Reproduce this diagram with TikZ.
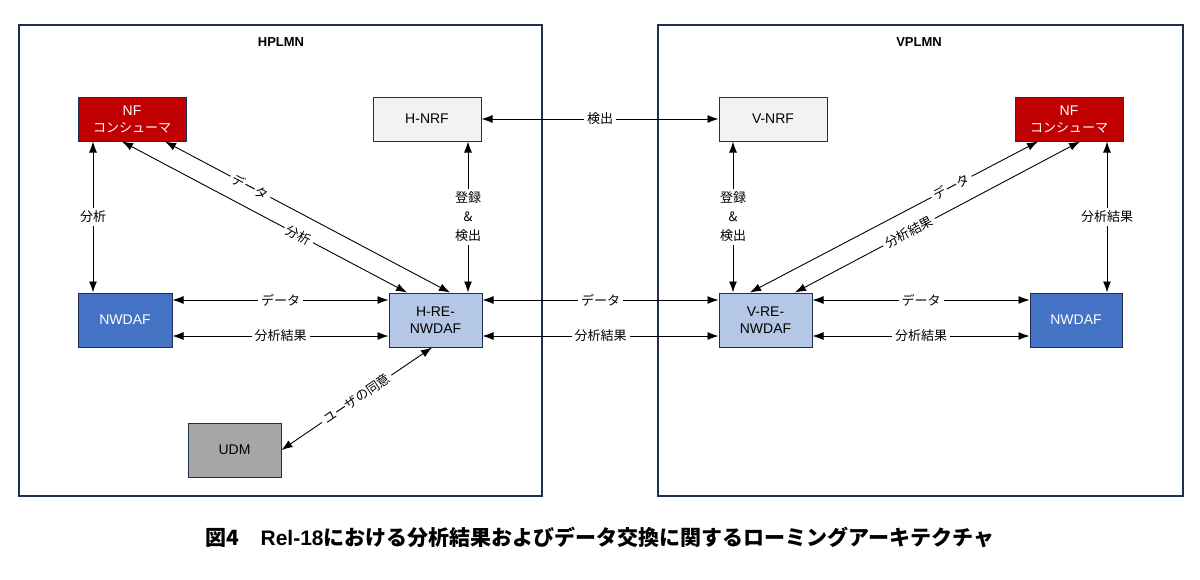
\documentclass[tikz,border=0pt]{standalone}
\usepackage{fontspec}
\setmainfont{Liberation Sans}
\newfontfamily\jp{Noto Sans CJK JP}
\usetikzlibrary{arrows.meta}
\definecolor{nfred}{HTML}{C00000}
\definecolor{nwblue}{HTML}{4472C4}
\definecolor{reblue}{HTML}{B4C7E7}
\definecolor{nrfgray}{HTML}{F2F2F2}
\definecolor{udmgray}{HTML}{A6A6A6}
\definecolor{edge}{HTML}{1F2F4F}
\begin{document}
\begin{tikzpicture}[x=1pt,y=-1pt,
 box/.style={draw=edge,line width=1pt,inner sep=0pt,align=center},
 frame/.style={draw=edge,line width=1.5pt},
 txt/.style={align=center,font=\fontsize{14}{17}\selectfont},
 con/.style={{Latex[length=11pt,width=8pt]}-{Latex[length=11pt,width=8pt]},line width=0.9pt},
 lbl/.style={fill=white,inner sep=3pt,font=\fontsize{13}{15}\selectfont\jp,align=center}]
\useasboundingbox (0,0) rectangle (1200,579);
\draw[frame] (19,25) rectangle (542,496);
\draw[frame] (658,25) rectangle (1183,496);
\node[font=\bfseries\fontsize{13}{15}\selectfont] (th) at (281,42) {HPLMN};
\node[font=\bfseries\fontsize{13}{15}\selectfont] (tv) at (919,42) {VPLMN};
\def\bx#1#2#3#4#5#6{\node[box,fill=#6,minimum width=#3-#1,minimum height=#4-#2] (#5) at ({(#1+#3)/2},{(#2+#4)/2}) {};}
\bx{78}{97}{186}{141}{nfl}{nfred}
\bx{373}{97}{481}{141}{hnrf}{nrfgray}
\bx{719}{97}{827}{141}{vnrf}{nrfgray}
\bx{1015}{97}{1123}{141}{nfr}{nfred}
\bx{78}{293}{172}{347}{nwl}{nwblue}
\bx{389}{293}{482}{347}{hre}{reblue}
\bx{719}{293}{812}{347}{vre}{reblue}
\bx{1030}{293}{1122}{347}{nwr}{nwblue}
\bx{188}{423}{281}{477}{udm}{udmgray}
\node[txt,text=white] at (nfl) {NF\\{\jp\fontsize{13}{17}\selectfont コンシューマ}};
\node[txt,text=white] at (nfr) {NF\\{\jp\fontsize{13}{17}\selectfont コンシューマ}};
\node[txt] at (hnrf) {H-NRF};
\node[txt] at (vnrf) {V-NRF};
\node[txt,text=white] at (nwl) {NWDAF};
\node[txt,text=white] at (nwr) {NWDAF};
\node[txt] at (hre) {H-RE-\\NWDAF};
\node[txt] at (vre) {V-RE-\\NWDAF};
\node[txt] at (udm) {UDM};
% connectors
\draw[con] (hnrf.east) -- node[lbl]{検出} (vnrf.west);
\draw[con] (nfl.south -| 93,0) -- node[lbl]{分析} (nwl.north -| 93,0);
\draw[con] (hnrf.south -| 468,0) -- node[lbl,font=\fontsize{13}{19}\selectfont\jp]{登録\\\&\\検出} (hre.north -| 468,0);
\draw[con] (vnrf.south -| 733,0) -- node[lbl,font=\fontsize{13}{19}\selectfont\jp]{登録\\\&\\検出} (vre.north -| 733,0);
\draw[con] (nfr.south -| 1107,0) -- node[lbl]{分析結果} (nwr.north -| 1107,0);
\draw[con] (nwl.east |- 0,300) -- node[lbl]{データ} (hre.west |- 0,300);
\draw[con] (nwl.east |- 0,336) -- node[lbl]{分析結果} (hre.west |- 0,336);
\draw[con] (hre.east |- 0,300) -- node[lbl]{データ} (vre.west |- 0,300);
\draw[con] (hre.east |- 0,336) -- node[lbl]{分析結果} (vre.west |- 0,336);
\draw[con] (vre.east |- 0,300) -- node[lbl]{データ} (nwr.west |- 0,300);
\draw[con] (vre.east |- 0,336) -- node[lbl]{分析結果} (nwr.west |- 0,336);
\draw[con] (nfl.south -| 165,0) -- node[lbl,sloped,pos=0.3]{データ} (hre.north -| 450,0);
\draw[con] (nfl.south -| 122,0) -- node[lbl,sloped,pos=0.62]{分析} (hre.north -| 407,0);
\draw[con] (nfr.south -| 1038,0) -- node[lbl,sloped,pos=0.3]{データ} (vre.north -| 750,0);
\draw[con] (nfr.south -| 1080,0) -- node[lbl,sloped,pos=0.6]{分析結果} (vre.north -| 795,0);
\draw[con] (udm.east |- 0,450) -- node[lbl,sloped]{ユーザの同意} (hre.south -| 432,0);
\node[font=\bfseries\fontsize{21}{24}\selectfont] (cap) at (600,537) {{\jp\bfseries 図4}\quad Rel-18{\jp\bfseries における分析結果およびデータ交換に関するローミングアーキテクチャ}};
\end{tikzpicture}
\end{document}
